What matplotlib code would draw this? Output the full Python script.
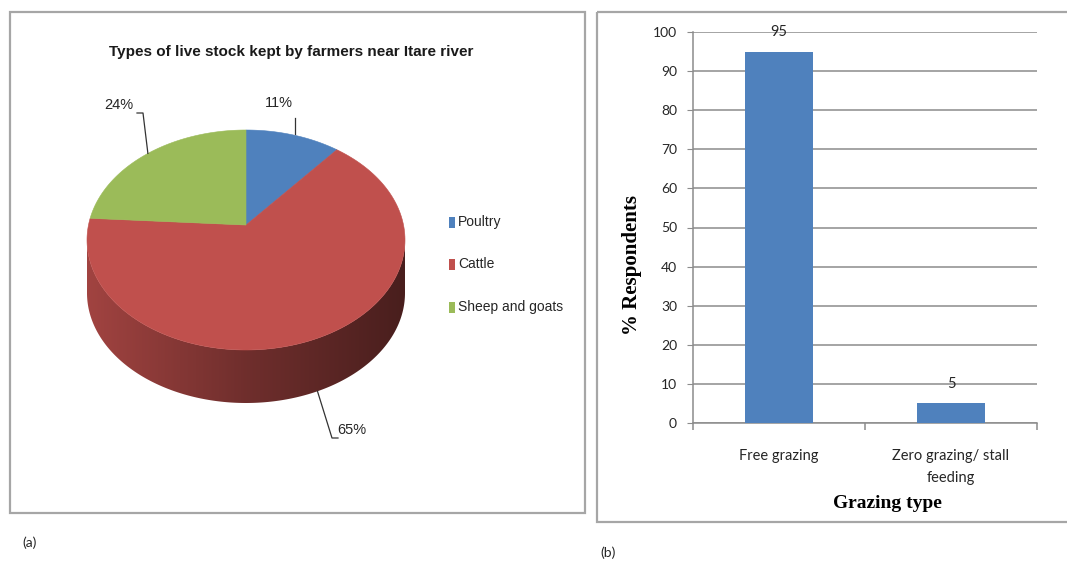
import numpy as np
import matplotlib
matplotlib.use("Agg")
import matplotlib.pyplot as plt
from matplotlib import font_manager
from matplotlib.patches import Polygon, Rectangle

# livestock kept (% of farmers)
stock_names = ["Poultry", "Cattle", "Sheep and goats"]
stock_share = [11, 65, 24]
stock_colors = ["#4F81BD", "#C0504D", "#9BBB59"]

# grazing practice (% respondents)
graze_types = ["Free grazing", "Zero grazing/ stall\nfeeding"]
graze_pct = [95, 5]
y_ticks = list(range(0, 101, 10))

installed = {f.name for f in font_manager.fontManager.ttflist}


def pick(*names):
    for n in names:
        if n in installed:
            return n
    return "DejaVu Sans"


narrow = pick("Liberation Sans Narrow", "DejaVu Sans Condensed", "Liberation Sans")
sans = pick("Lato", "Open Sans", "Liberation Sans")
serif = pick("Liberation Serif", "DejaVu Serif")
ink = "#262626"

W, H = 1067, 562
fig = plt.figure(figsize=(W / 100, H / 100), dpi=100)
bg = fig.add_axes([0, 0, 1, 1])

# panel frames
for x0, y0, x1, y1 in [(10, 12, 585, 513), (597, 12, 1080, 522)]:
    bg.add_patch(Rectangle((x0, y0), x1 - x0, y1 - y0, fill=False,
                           ec="#a6a6a6", lw=1.6))

# ---- (a) 3-D pie, drawn in pixel units ----
cx, cy, rx, ry, depth = 246, 240, 159, 110, 53
tilt = 0.136  # perspective: the centre sits a little above the ellipse middle


def rim(theta):
    # theta in degrees, clockwise from the back edge of the pie
    t = np.radians(theta)
    u, v = np.sin(t), np.cos(t)
    d = 1 + tilt * v
    return cx + rx * u * np.sqrt(1 - tilt ** 2) / d, cy - ry * (v + tilt) / d


apex = (cx, cy - ry * tilt)
edges = np.concatenate([[0], np.cumsum(stock_share)]) / sum(stock_share) * 360
front_lo = np.degrees(np.arccos(-tilt))
front_hi = 360 - front_lo

# side walls with a left-to-right shading
for a0, a1, col in zip(edges[:-1], edges[1:], stock_colors):
    lo, hi = max(a0, front_lo), min(a1, front_hi)
    if lo >= hi:
        continue
    xs, ys = rim(np.linspace(lo, hi, 200))
    pts = np.vstack([np.column_stack([xs, ys]),
                     np.column_stack([xs, ys + depth])[::-1]])
    clip = Polygon(pts, closed=True, transform=bg.transData)
    gx = np.linspace(cx - rx, cx + rx, 400)
    f = np.interp(gx, [cx - rx, cx, cx + rx], [0.84, 0.58, 0.38])
    rgb = np.array(matplotlib.colors.to_rgb(col))
    img = (rgb[None, None, :] * f[None, :, None]).clip(0, 1)
    im = bg.imshow(img, extent=(cx - rx, cx + rx, cy + ry + depth + 5, cy - 5),
                   aspect="auto", interpolation="bilinear", zorder=2)
    im.set_clip_path(clip)

# top face
for a0, a1, col in zip(edges[:-1], edges[1:], stock_colors):
    xs, ys = rim(np.linspace(a0, a1, 200))
    pts = np.vstack([[apex], np.column_stack([xs, ys])])
    bg.add_patch(Polygon(pts, closed=True, fc=col, ec=col, lw=0.4, zorder=3))

# percentage labels with leader lines
label_xy = [(279, 103), (352, 430), (119, 105)]
elbows = [[(295, 118)], [(332, 438), (338, 438)], [(137, 113), (143, 113)]]
for a0, a1, share, (tx, ty), elb in zip(edges[:-1], edges[1:], stock_share,
                                        label_xy, elbows):
    mid = (a0 + a1) / 2
    ex, ey = rim(mid)
    if np.cos(np.radians(mid)) < -tilt:
        ey += depth
    if len(elb) == 1:
        path = [elb[0], (elb[0][0], ey - 1)]
    elif elb[0][0] > ex:
        path = [(ex, ey)] + elb
    else:
        path = elb + [(ex, ey)]
    px, py = zip(*path)
    bg.plot(px, py, color="#333333", lw=0.9, zorder=4)
    bg.text(tx, ty, f"{share}%", ha="center", va="center", fontsize=10.5,
            family=narrow, color=ink, zorder=5)

bg.text(291, 52, "Types of live stock kept by farmers near Itare river",
        ha="center", va="center", fontsize=11, family=narrow,
        fontweight="bold", color="#1a1a1a")

# legend
for i, (name, col) in enumerate(zip(stock_names, stock_colors)):
    ly = 222 + i * 42.5
    bg.add_patch(Rectangle((449, ly - 5.5), 5.5, 11, fc=col, ec="none"))
    bg.text(458, ly, name, ha="left", va="center", fontsize=10,
            family=narrow, color=ink)

bg.text(30, 543, "(a)", ha="center", va="center", fontsize=10, family=sans,
        color=ink)
bg.text(608, 553, "(b)", ha="center", va="center", fontsize=10, family=sans,
        color=ink)

bg.set_xlim(0, W)
bg.set_ylim(H, 0)
bg.axis("off")

# ---- (b) grazing bar chart ----
ax = fig.add_axes([693 / W, 1 - 423 / H, (1037 - 693) / W, (423 - 32) / H])
xpos = np.arange(len(graze_types))
ax.bar(xpos, graze_pct, width=0.4, color="#4F81BD", zorder=3)
for x, v in zip(xpos, graze_pct):
    ax.annotate(str(v), (x, v), xytext=(0, 14), textcoords="offset points",
                ha="center", va="center", fontsize=10.5, family=sans, color=ink)

ax.set_xlim(-0.5, 1.5)
ax.set_ylim(0, 100)
ax.set_yticks(y_ticks)
ax.set_xticks(xpos, graze_types)
ax.set_xticks([-0.5, 0.5, 1.5], minor=True)
ax.grid(axis="y", color="#8c8c8c", lw=1.1)
ax.set_axisbelow(True)
for s in ["top", "right"]:
    ax.spines[s].set_visible(False)
for s in ["left", "bottom"]:
    ax.spines[s].set_color("#8c8c8c")
    ax.spines[s].set_linewidth(1.1)
ax.tick_params(axis="y", length=4.5, color="#8c8c8c", pad=7, labelsize=10,
               labelcolor=ink)
ax.tick_params(axis="x", which="major", length=0, pad=19, labelsize=10.5,
               labelcolor=ink)
ax.tick_params(axis="x", which="minor", length=5, color="#8c8c8c", width=1.1)
for lbl in ax.get_xticklabels() + ax.get_yticklabels():
    lbl.set_family(sans)
for lbl in ax.get_xticklabels():
    lbl.set_linespacing(1.7)

ax.set_ylabel("% Respondents", family=serif, fontweight="bold", fontsize=15,
              va="center")
ax.yaxis.set_label_coords(-0.177, 0.404)
ax.set_xlabel("Grazing type", family=serif, fontweight="bold", fontsize=14,
              va="center")
ax.xaxis.set_label_coords(0.564, -0.205)

fig.savefig("out.png", dpi=100)
